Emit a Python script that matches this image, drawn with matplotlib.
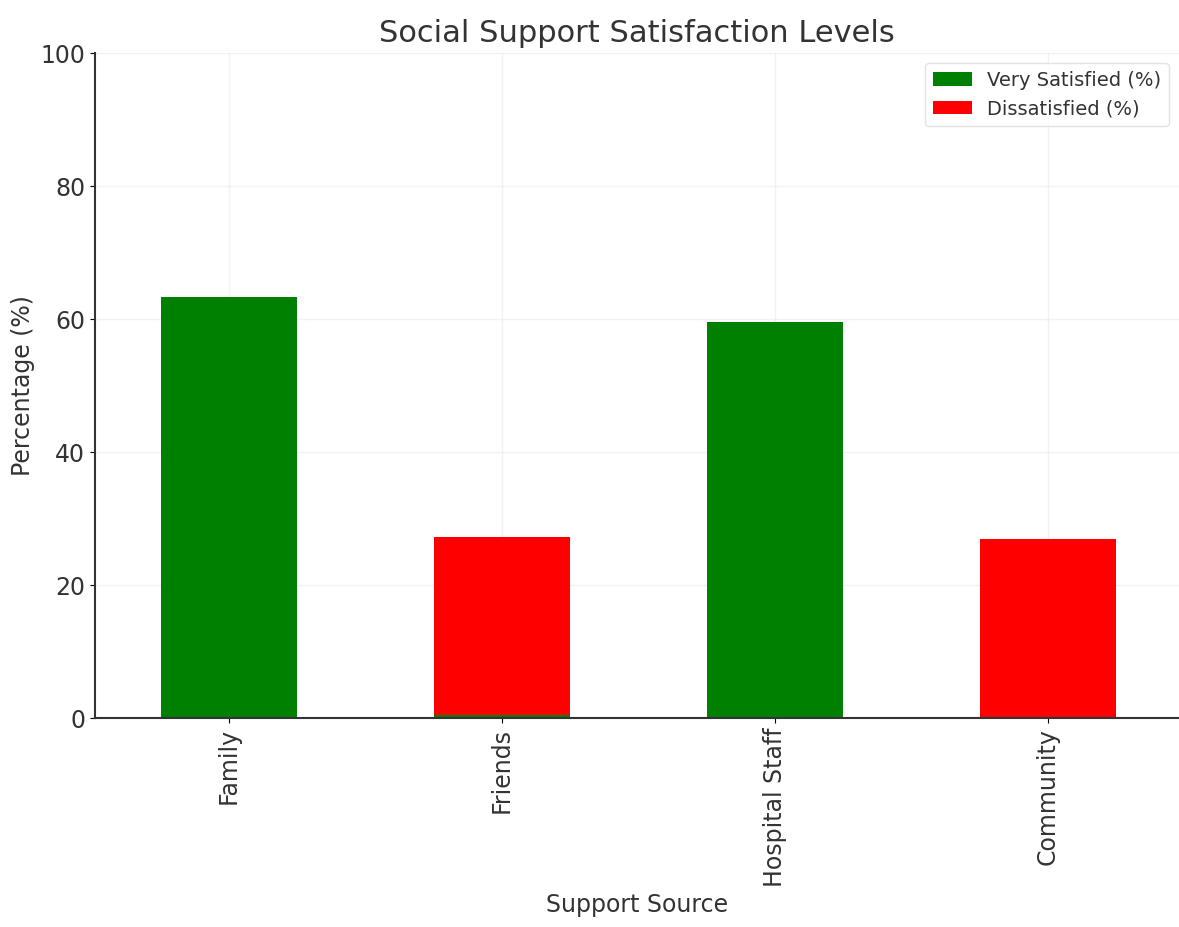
import numpy as np
import matplotlib.pyplot as plt

sources = ['Family', 'Friends', 'Hospital Staff', 'Community']
very_satisfied = [63.3, 0.4, 59.5, 0.0]
dissatisfied = [0.0, 26.8, 0.0, 26.9]

fig = plt.figure(figsize=(11.79, 9.27), dpi=100)
ax = fig.add_axes([0.0806, 0.2254, 0.9194, 0.7174])

x = np.arange(len(sources))
ax.bar(x, very_satisfied, width=0.5, color='green', label='Very Satisfied (%)', zorder=2)
ax.bar(x, dissatisfied, width=0.5, bottom=very_satisfied, color='red',
       label='Dissatisfied (%)', zorder=2)

ax.set_xlim(-0.49, 3.48)
ax.set_ylim(0, 100)
ax.set_xticks(x)
ax.set_xticklabels(sources, rotation=90, fontsize=17, color='#333333')
ax.tick_params(axis='y', labelsize=17, labelcolor='#333333')
ax.grid(True, color='#e6e6e6', linewidth=1)
for line in ax.get_xgridlines() + ax.get_ygridlines():
    line.set_zorder(3)
    line.set_alpha(0.5)

ax.spines['top'].set_visible(False)
ax.spines['right'].set_visible(False)
for side in ['left', 'bottom']:
    ax.spines[side].set_color('#333333')
    ax.spines[side].set_linewidth(1.5)

ax.set_title('Social Support Satisfaction Levels', fontsize=22, color='#333333', pad=8)
ax.set_xlabel('Support Source', fontsize=17, color='#333333')
ax.set_ylabel('Percentage (%)', fontsize=17, color='#333333')
leg = ax.legend(loc='upper right', fontsize=14, labelcolor='#333333')
leg.get_frame().set_edgecolor('#dddddd')

fig.savefig('out.png', dpi=100)
